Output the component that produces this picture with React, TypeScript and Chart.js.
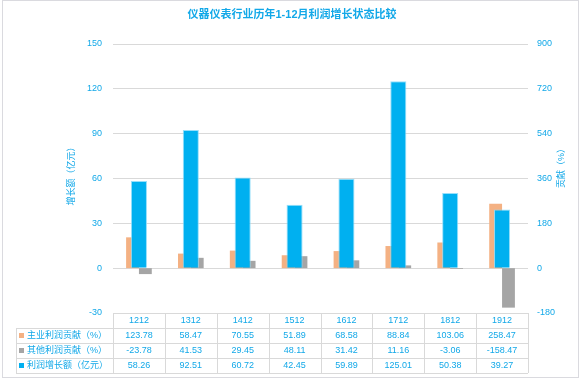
import React, { useEffect, useRef } from "react";
import { Chart, registerables } from "chart.js";

Chart.register(...registerables);

const title = "仪器仪表行业历年1-12月利润增长状态比较";
const leftAxisTitle = "增长额（亿元）";
const rightAxisTitle = "贡献（%）";
const categories = ["1212", "1312", "1412", "1512", "1612", "1712", "1812", "1912"];
const mainContribution = [123.78, 58.47, 70.55, 51.89, 68.58, 88.84, 103.06, 258.47];
const otherContribution = [-23.78, 41.53, 29.45, 48.11, 31.42, 11.16, -3.06, -158.47];
const profitGrowth = [58.26, 92.51, 60.72, 42.45, 59.89, 125.01, 50.38, 39.27];
const seriesNames = ["主业利润贡献（%）", "其他利润贡献（%）", "利润增长额（亿元）"];
const seriesColors = ["#f4b183", "#a5a5a5", "#00b0f0"];
const tableValues = [mainContribution, otherContribution, profitGrowth];

const TEXT = "#12a8e8";
const GRID = "#d9d9d9";
const FONT = '"Liberation Sans", "Noto Sans CJK SC", sans-serif';

const framePlugin = {
  id: "frame",
  beforeDraw(chart: any) {
    const { ctx, width, height } = chart;
    ctx.save();
    ctx.fillStyle = "#ffffff";
    ctx.fillRect(0, 0, width, height);
    ctx.strokeStyle = "#dadadf";
    ctx.lineWidth = 1;
    ctx.strokeRect(2.5, 0.5, 576, 377);
    ctx.restore();
  },
  afterDraw(chart: any) {
    const { ctx, chartArea } = chart;
    ctx.save();
    // title
    ctx.fillStyle = TEXT;
    ctx.font = "bold 11px " + FONT;
    ctx.textAlign = "center";
    ctx.textBaseline = "middle";
    ctx.fillText(title, 292, 15);
    // axis titles
    ctx.font = "9px " + FONT;
    ctx.save();
    ctx.translate(72, 174);
    ctx.rotate(-Math.PI / 2);
    ctx.fillText(leftAxisTitle, 0, 0);
    ctx.restore();
    ctx.save();
    ctx.translate(562, 166);
    ctx.rotate(-Math.PI / 2);
    ctx.fillText(rightAxisTitle, 0, 0);
    ctx.restore();

    // data table
    const left = chartArea.left;
    const right = chartArea.right;
    const top = Math.round(chartArea.bottom);
    const n = categories.length;
    const w = (right - left) / n;
    const rowH = 15;
    const tableLeft = 16;
    ctx.strokeStyle = GRID;
    ctx.lineWidth = 1;
    ctx.beginPath();
    ctx.moveTo(left, top + 0.5);
    ctx.lineTo(right, top + 0.5);
    for (let r = 1; r <= 4; r++) {
      const y = top + r * rowH + 0.5;
      ctx.moveTo(tableLeft, y);
      ctx.lineTo(right, y);
    }
    ctx.moveTo(tableLeft + 0.5, top + rowH);
    ctx.lineTo(tableLeft + 0.5, top + 4 * rowH);
    for (let i = 0; i <= n; i++) {
      const x = Math.round(left + i * w) + 0.5;
      ctx.moveTo(x, top);
      ctx.lineTo(x, top + 4 * rowH);
    }
    ctx.stroke();

    ctx.fillStyle = TEXT;
    ctx.font = "9px " + FONT;
    ctx.textAlign = "center";
    ctx.textBaseline = "middle";
    const xs = chart.scales.x;
    categories.forEach((c, i) => {
      ctx.fillText(c, xs.getPixelForValue(i), top + rowH / 2 + 0.5);
    });
    tableValues.forEach((vals, r) => {
      const yc = top + (r + 1) * rowH + rowH / 2 + 0.5;
      vals.forEach((v, i) => {
        ctx.fillText(v.toFixed(2), xs.getPixelForValue(i), yc);
      });
    });
    ctx.textAlign = "left";
    seriesNames.forEach((name, r) => {
      const yc = top + (r + 1) * rowH + rowH / 2 + 0.5;
      ctx.fillStyle = seriesColors[r];
      ctx.fillRect(19, Math.round(yc - 3), 5, 5);
      ctx.fillStyle = TEXT;
      ctx.fillText(name, 27, yc);
    });
    ctx.restore();
  },
};

export default function App() {
  const ref = useRef<HTMLCanvasElement>(null);
  useEffect(() => {
    document.body.style.margin = "0";
    const canvas = ref.current!;
    const chart = new Chart(canvas, {
      type: "bar",
      data: {
        labels: categories,
        datasets: [
          {
            label: seriesNames[2],
            data: profitGrowth,
            backgroundColor: seriesColors[2],
            borderColor: "rgba(140,220,250,0.9)",
            borderWidth: 1,
            yAxisID: "y",
            grouped: false,
            categoryPercentage: 0.31,
            barPercentage: 1,
          } as any,
          {
            label: seriesNames[0],
            data: mainContribution,
            backgroundColor: seriesColors[0],
            yAxisID: "y1",
            categoryPercentage: 0.495,
            barPercentage: 1,
          },
          {
            label: seriesNames[1],
            data: otherContribution,
            backgroundColor: seriesColors[1],
            yAxisID: "y1",
            categoryPercentage: 0.495,
            barPercentage: 1,
          },
        ],
      },
      plugins: [framePlugin],
      options: {
        responsive: false,
        animation: false,
        devicePixelRatio: 1,
        layout: { padding: { left: 0, right: 0, top: 44, bottom: 67 } },
        plugins: { legend: { display: false }, tooltip: { enabled: false }, title: { display: false } },
        scales: {
          x: { display: false, offset: true },
          y: {
            position: "left",
            min: -30,
            max: 150,
            ticks: { stepSize: 30, color: TEXT, font: { size: 9, family: FONT }, padding: 11 },
            grid: { color: GRID, drawTicks: false },
            border: { display: false },
            afterFit: (s: any) => { s.width = 113; },
          },
          y1: {
            position: "right",
            min: -180,
            max: 900,
            ticks: { stepSize: 180, color: TEXT, font: { size: 9, family: FONT }, padding: 9 },
            grid: { display: false, drawTicks: false },
            border: { display: false },
            afterFit: (s: any) => { s.width = 54; },
          },
        },
      },
    });
    return () => chart.destroy();
  }, []);
  return (
    <div style={{ width: 582, height: 380 }}>
      <canvas ref={ref} width={582} height={380} style={{ display: "block", width: 582, height: 380 }} />
    </div>
  );
}
